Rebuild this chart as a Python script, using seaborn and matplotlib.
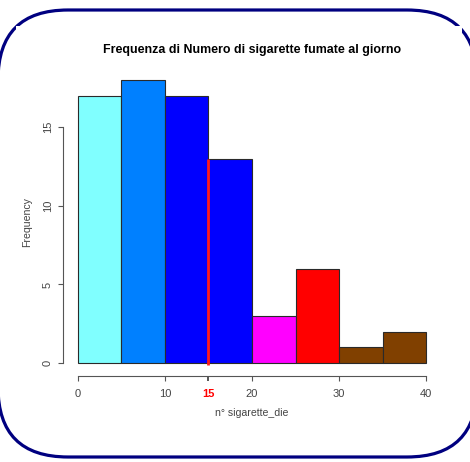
import numpy as np
import pandas as pd
import matplotlib
matplotlib.use("Agg")
import matplotlib.pyplot as plt
from matplotlib.patches import FancyBboxPatch, Rectangle
from matplotlib.transforms import IdentityTransform
import seaborn as sns

# Histogram of cigarettes smoked per day (bins of width 5)
bin_edges = [0, 5, 10, 15, 20, 25, 30, 35, 40]
counts = [17, 18, 17, 13, 3, 6, 1, 2]
bar_colors = ["#80FFFF", "#0080FF", "#0000FF", "#0000FF",
              "#FF00FF", "#FF0000", "#804000", "#804000"]
x_ticks = [0, 10, 20, 30, 40]
y_ticks = [0, 5, 10, 15]
marker_value = 15          # highlighted value on the x axis
marker_height = 13         # height of the highlight line

title = "Frequenza di Numero di sigarette fumate al giorno"
x_label = "n\u00b0 sigarette_die"
y_label = "Frequency"

sns.set_style("white")
plt.rcParams["font.family"] = ["Liberation Sans", "DejaVu Sans"]

W, H = 470, 462
fig = plt.figure(figsize=(W / 100, H / 100), dpi=100)
fig.patch.set_facecolor("white")

# Rounded navy frame around the chart, partly covered by the white panel
frame = FancyBboxPatch((-2, 5), 479, 447,
                       boxstyle="round,pad=0,rounding_size=70",
                       transform=IdentityTransform(), facecolor="white",
                       edgecolor="#000080", linewidth=2.3, zorder=-3)
fig.patches.append(frame)
panel = Rectangle((16, H - 430), 446, 404, transform=IdentityTransform(),
                  facecolor="white", edgecolor="none", zorder=-2)
fig.patches.append(panel)

# Plot region in pixels
left, right, top, bottom = 64, 440, 68.5, 374.5
ax = fig.add_axes([left / W, (H - bottom) / H, (right - left) / W, (bottom - top) / H])
ax.set_facecolor("none")

mids = [(a + b) / 2 for a, b in zip(bin_edges[:-1], bin_edges[1:])]
df = pd.DataFrame({"mid": mids, "n": counts})
sns.histplot(data=df, x="mid", weights="n", bins=bin_edges, ax=ax,
             alpha=1, edgecolor="#2a2a2a", linewidth=0.8)
for patch, c in zip(ax.patches, bar_colors):
    patch.set_facecolor(c)

ax.plot([marker_value, marker_value], [-0.1, marker_height], color="#FF1A1A",
        linewidth=2.0, zorder=5, solid_capstyle="butt")

ax.set_xlim(-1.6, 41.6)
ax.set_ylim(-0.72, 18.72)
ax.set_xlabel("")
ax.set_ylabel("")

axis_grey = "#555555"
text_grey = "#444444"
for s in ["top", "right"]:
    ax.spines[s].set_visible(False)
ax.spines["bottom"].set_bounds(0, 40)
ax.spines["left"].set_bounds(0, 15)
for s in ["bottom", "left"]:
    ax.spines[s].set_color(axis_grey)
    ax.spines[s].set_linewidth(0.8)
ax.spines["bottom"].set_position(("outward", 1))
ax.spines["left"].set_position(("outward", 1))

ticks = sorted(x_ticks + [marker_value])
ax.set_xticks(ticks)
ax.set_xticklabels([str(t) for t in ticks])
ax.set_yticks(y_ticks)
ax.set_yticklabels([str(t) for t in y_ticks])
ax.tick_params(axis="both", length=3.6, width=0.8, color=axis_grey,
               labelcolor=text_grey, labelsize=8, direction="out",
               bottom=True, left=True)
ax.tick_params(axis="x", pad=5.5)
ax.tick_params(axis="y", pad=3.5, labelrotation=90)
for lab in ax.get_yticklabels():
    lab.set_va("center")

idx = ticks.index(marker_value)
mt = ax.xaxis.get_major_ticks()[idx]
mt.tick1line.set_color("#FF0000")
mt.tick1line.set_markeredgewidth(1.4)
mt.label1.set_color("#FF0000")
mt.label1.set_fontweight("bold")

fig.text(252 / W, 1 - 50 / H, title, ha="center", va="center",
         fontsize=8.9, fontweight="bold", color="black")
fig.text(252 / W, 1 - 413.5 / H, x_label, ha="center", va="center",
         fontsize=7.6, color=text_grey)
fig.text(27 / W, 1 - 222 / H, y_label, ha="center", va="center",
         rotation=90, fontsize=7.6, color=text_grey)

fig.savefig("out.png", dpi=100, facecolor="white")
